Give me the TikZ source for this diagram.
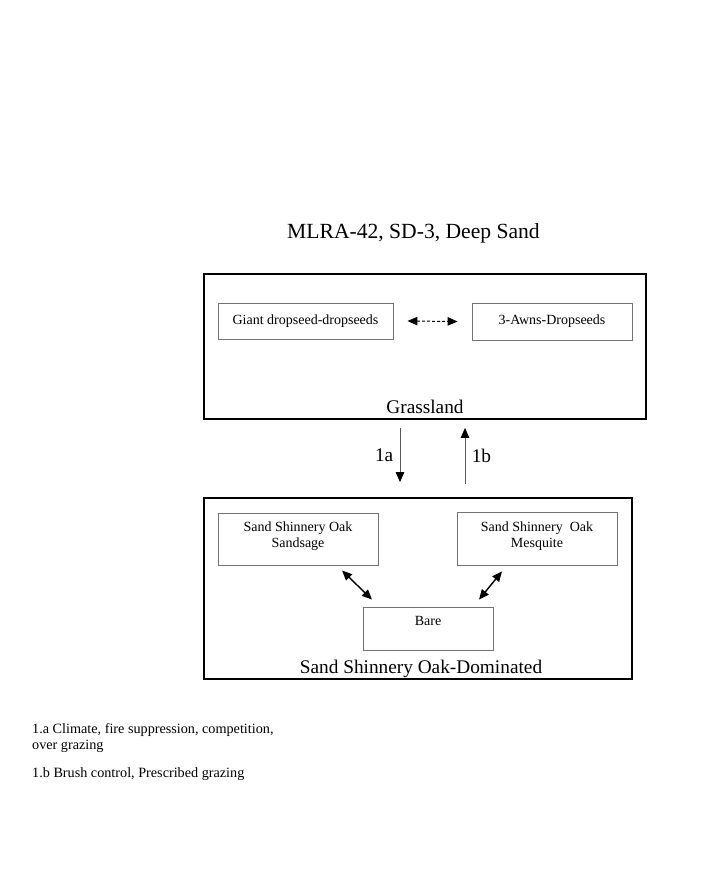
\documentclass[tikz,border=0pt]{standalone}
\usepackage{fontspec}
\setmainfont{Liberation Serif}
\usetikzlibrary{positioning, arrows.meta}

\begin{document}
\begin{tikzpicture}[
    x=1pt, y=-1pt,
    >={Triangle[length=10pt, width=8.5pt, color=black]},
    statebox/.style={
        draw,
        line width=1.8pt,
        inner sep=0pt
    },
    phasebox/.style={
        draw=black!55,
        line width=0.9pt,
        inner sep=0pt,
        font=\fontsize{14}{16}\selectfont
    },
    phasetext/.style={
        align=center,
        inner sep=0pt,
        font=\fontsize{14}{16}\selectfont
    },
    bigtext/.style={font=\fontsize{19.3}{22}\selectfont},
    notetext/.style={
        align=left,
        inner sep=0pt,
        anchor=north west,
        font=\fontsize{14.2}{16}\selectfont
    },
    trans/.style={->, draw=black!65, line width=0.9pt},
    phaseshift/.style={<->, line width=1.4pt}
]
    \useasboundingbox (0,0) rectangle (713,878);

    \node[font=\fontsize{21.6}{24}\selectfont, anchor=base] (title) at (413.5,238) {MLRA-42, SD-3, Deep Sand};

    % grassland state
    \node[statebox, minimum width=442pt, minimum height=145pt] (grass) at (425,346.5) {};
    \node[phasebox, minimum width=175pt, minimum height=36pt] (giant) at (305.5,321) {Giant dropseed-dropseeds};
    \node[phasebox, minimum width=160pt, minimum height=37pt] (awns) at (552,321.5) {3-Awns-Dropseeds};
    \node[bigtext, anchor=base] (grasslbl) at (425,413) {Grassland};

    % shinnery oak state
    \node[statebox, minimum width=428pt, minimum height=181pt] (oak) at (418,588.5) {};
    \node[phasebox, minimum width=160pt, minimum height=52pt] (sandsage) at (298,539) {};
    \node[phasebox, minimum width=160pt, minimum height=53pt] (mesquite) at (537,538.5) {};
    \node[phasebox, minimum width=130pt, minimum height=43pt] (bare) at (428,628.5) {};
    \node[phasetext, below=9.5pt of sandsage.north] (sandsagetxt) {Sand Shinnery Oak\\Sandsage};
    \node[phasetext, below=10pt of mesquite.north] (mesquitetxt) {Sand Shinnery\ \ Oak\\Mesquite};
    \node[phasetext, below=9.5pt of bare.north] (baretxt) {Bare};
    \node[bigtext, anchor=base] (oaklbl) at (421,673) {Sand Shinnery Oak-Dominated};

    % transitions
    \draw[<->, dashed, dash pattern=on 3pt off 2pt, line width=1pt] ([xshift=14pt]giant.east) -- ([xshift=-14pt]awns.west);
    \draw[trans] ([xshift=-25pt, yshift=-8pt]grass.south) -- node[bigtext, left=3pt] (ta) {1a} ([xshift=-18pt, yshift=15pt]oak.north);
    \draw[trans] ([xshift=47pt, yshift=13pt]oak.north) -- node[bigtext, right=3pt] (tb) {1b} ([xshift=40pt, yshift=-8pt]grass.south);
    \draw[phaseshift] ([xshift=44pt, yshift=-5pt]sandsage.south) -- ([xshift=-56pt, yshift=7pt]bare.north);
    \draw[phaseshift] ([xshift=-35pt, yshift=-6pt]mesquite.south) -- ([xshift=51pt, yshift=7pt]bare.north);

    % notes
    \node[notetext] (notea) at (32,723.3) {1.a Climate, fire suppression, competition,\\over grazing};
    \node[notetext] (noteb) at (32,767.3) {1.b Brush control, Prescribed grazing};
\end{tikzpicture}
\end{document}
